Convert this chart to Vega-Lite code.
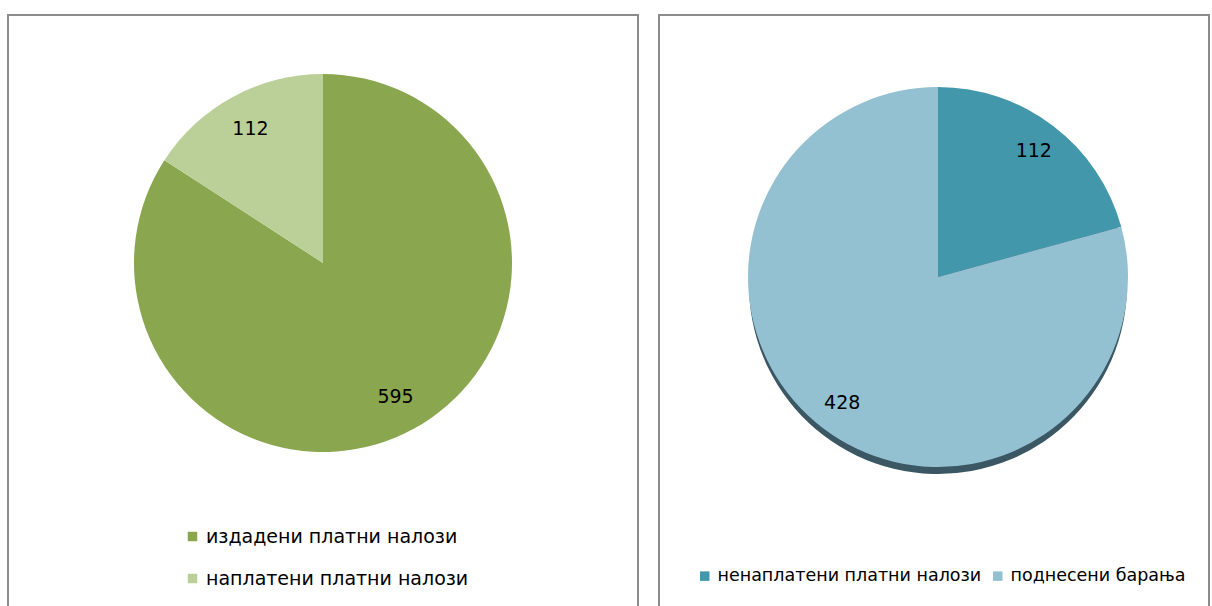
{
  "$schema": "https://vega.github.io/schema/vega-lite/v6.json",
  "padding": {"left": 7, "top": 14, "right": 0, "bottom": 0},
  "spacing": 21,
  "bounds": "flush",
  "resolve": {"scale": {"color": "independent"}, "legend": {"color": "independent"}},
  "config": {
    "view": {"stroke": "#8c8c8c", "strokeWidth": 2},
    "font": "DejaVu Sans",
    "legend": {"symbolType": "square", "symbolSize": 90, "labelFontSize": 19, "labelColor": "#000000", "labelFont": "DejaVu Sans", "title": null, "symbolStrokeWidth": 0, "labelLimit": 400}
  },
  "hconcat": [
    {
      "width": 630,
      "height": 594,
      "data": {"values": [
        {"category": "издадени платни налози", "value": 595, "order": 1},
        {"category": "наплатени платни налози", "value": 112, "order": 2}
      ]},
      "layer": [
        {
          "mark": {"type": "point", "opacity": 0, "size": 0},
          "encoding": {
            "x": {"datum": 0, "type": "quantitative", "axis": null},
            "y": {"datum": 0, "type": "quantitative", "axis": null}
          }
        },
        {
          "mark": {"type": "arc", "outerRadius": 189, "x": 315, "y": 248},
          "encoding": {
            "theta": {"field": "value", "type": "quantitative", "stack": true},
            "order": {"field": "order", "type": "quantitative"},
            "color": {
              "field": "category", "type": "nominal",
              "scale": {"domain": ["издадени платни налози", "наплатени платни налози"], "range": ["#8aa64e", "#bbd098"]},
              "legend": {"orient": "none", "legendX": 175, "legendY": 512, "direction": "vertical", "rowPadding": 22}
            }
          }
        },
        {
          "mark": {"type": "text", "radius": 152, "x": 315, "y": 248, "fontSize": 19, "color": "#000000"},
          "encoding": {
            "theta": {"field": "value", "type": "quantitative", "stack": true},
            "order": {"field": "order", "type": "quantitative"},
            "text": {"field": "value", "type": "quantitative"}
          }
        }
      ]
    },
    {
      "width": 550,
      "height": 594,
      "data": {"values": [
        {"category": "ненаплатени платни налози", "value": 112, "order": 1},
        {"category": "поднесени барања", "value": 428, "order": 2}
      ]},
      "layer": [
        {
          "mark": {"type": "point", "opacity": 0, "size": 0},
          "encoding": {
            "x": {"datum": 0, "type": "quantitative", "axis": null},
            "y": {"datum": 0, "type": "quantitative", "axis": null}
          }
        },
        {
          "mark": {"type": "arc", "outerRadius": 189, "x": 279, "y": 270, "color": "#3b5763"},
          "encoding": {
            "theta": {"field": "value", "type": "quantitative", "stack": true},
            "order": {"field": "order", "type": "quantitative"}
          }
        },
        {
          "mark": {"type": "arc", "outerRadius": 190, "x": 279, "y": 262},
          "encoding": {
            "theta": {"field": "value", "type": "quantitative", "stack": true},
            "order": {"field": "order", "type": "quantitative"},
            "color": {
              "field": "category", "type": "nominal",
              "scale": {"domain": ["ненаплатени платни налози", "поднесени барања"], "range": ["#4297ab", "#93c1d2"]},
              "legend": {"orient": "none", "legendX": 37, "legendY": 552, "direction": "horizontal", "columnPadding": 7, "labelFontSize": 17.5}
            }
          }
        },
        {
          "mark": {"type": "text", "radius": 158, "x": 279, "y": 262, "fontSize": 19, "color": "#000000"},
          "encoding": {
            "theta": {"field": "value", "type": "quantitative", "stack": true},
            "order": {"field": "order", "type": "quantitative"},
            "text": {"field": "value", "type": "quantitative"}
          }
        }
      ]
    }
  ]
}
